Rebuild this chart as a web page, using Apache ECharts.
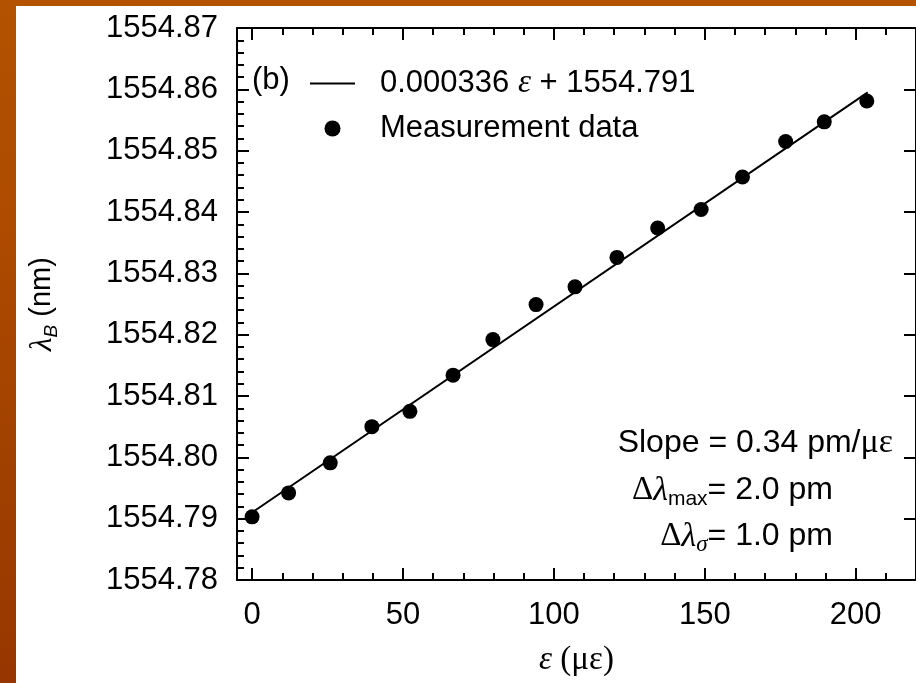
<!DOCTYPE html>
<html>
<head>
<meta charset="utf-8">
<script src="https://cdn.jsdelivr.net/npm/echarts@6/dist/echarts.min.js"></script>
<style>
html,body{margin:0;padding:0;width:916px;height:683px;overflow:hidden;}
body{background:linear-gradient(180deg,#b35200 0%,#ad4a00 35%,#a04000 70%,#983600 100%);}
#chart{position:absolute;left:16px;top:6px;width:900px;height:677px;background:#ffffff;}
</style>
</head>
<body>
<div id="chart"></div>
<script>
// ---- data ----
const strainX = [0, 12.1, 25.9, 39.7, 52.3, 66.6, 79.8, 94.1, 107.0, 120.9, 134.4, 148.8, 162.5, 176.8, 189.6, 203.7];
const lambdaY = [1554.7903, 1554.7942, 1554.7991, 1554.8050, 1554.8075, 1554.8134, 1554.8192, 1554.8249, 1554.8278, 1554.8326, 1554.8374, 1554.8404, 1554.8457, 1554.8515, 1554.8547, 1554.8581];
const fitX = [0, 204];
const fitY = [1554.791, 1554.8595];
const xMajorTicks = [0, 50, 100, 150, 200];
const xMinorTicks = [10, 20, 30, 40, 60, 70, 80, 90, 110, 120, 130, 140, 160, 170, 180, 190, 210];
const fitName = '0.000336 ε + 1554.791';
const dataName = 'Measurement data';

const SANS = 'Liberation Sans';
const SERIF = 'Liberation Serif';

const chart = echarts.init(document.getElementById('chart'), null, {renderer: 'canvas'});

const axisLineStyle = {color: '#000', width: 2};
function xAxisDef(pos, ticks, len, labels, line) {
  return {
    type: 'value', position: pos, min: -5, max: 220,
    axisLine: {show: line, onZero: false, lineStyle: axisLineStyle},
    axisTick: {show: true, inside: true, length: len, lineStyle: {color: '#000', width: 2}, customValues: ticks},
    axisLabel: labels ? {show: true, customValues: ticks, color: '#000', fontFamily: SANS, fontSize: 31, margin: 20} : {show: false},
    splitLine: {show: false}
  };
}

const xAxes = [
  Object.assign(xAxisDef('bottom', xMajorTicks, 12, true, true), {
    name: '{i|ε }{s|(με)}', nameLocation: 'middle', nameGap: 64,
    nameTextStyle: {color: '#000', rich: {
      i: {fontFamily: SERIF, fontStyle: 'italic', fontSize: 33, color: '#000'},
      s: {fontFamily: SERIF, fontSize: 33, color: '#000'}
    }}
  }),
  xAxisDef('bottom', xMinorTicks, 7, false, false),
  xAxisDef('top', xMajorTicks, 12, false, true),
  xAxisDef('top', xMinorTicks, 7, false, false)
];

const yAxes = [
  {
    type: 'value', position: 'left', min: 1554.78, max: 1554.87, interval: 0.01,
    axisLine: {show: true, onZero: false, lineStyle: axisLineStyle},
    axisTick: {show: true, inside: true, length: 12, lineStyle: {color: '#000', width: 2}},
    minorTick: {show: true, splitNumber: 5, length: 7, lineStyle: {color: '#000', width: 2}},
    axisLabel: {color: '#000', fontFamily: SANS, fontSize: 31, margin: 19, formatter: v => v.toFixed(2)},
    splitLine: {show: false},
    name: '{l|λ}{b|B}{n| (nm)}', nameLocation: 'middle', nameGap: 176, nameRotate: 90,
    nameTextStyle: {color: '#000', rich: {
      l: {fontFamily: SERIF, fontStyle: 'italic', fontSize: 31, color: '#000', verticalAlign: 'top', lineHeight: 34},
      b: {fontFamily: SANS, fontStyle: 'italic', fontSize: 19, color: '#000', verticalAlign: 'bottom', lineHeight: 22, padding: [18, 0, 0, 0]},
      n: {fontFamily: SANS, fontSize: 29, color: '#000', verticalAlign: 'top', lineHeight: 34}
    }}
  },
  {
    type: 'value', position: 'right', min: 1554.78, max: 1554.87, interval: 0.01,
    axisLine: {show: true, onZero: false, lineStyle: axisLineStyle},
    axisTick: {show: true, inside: true, length: 12, lineStyle: {color: '#000', width: 2}},
    axisLabel: {show: false},
    splitLine: {show: false}
  }
];

const mainTok = {fontFamily: SANS, fontSize: 32, color: '#000', verticalAlign: 'top', lineHeight: 36};
const option = {
  animation: false,
  backgroundColor: '#ffffff',
  grid: {left: 216, top: 22, width: 693, height: 552, containLabel: false},
  xAxis: xAxes,
  yAxis: yAxes,
  legend: {
    orient: 'vertical', left: 289, top: 56,
    itemWidth: 45, itemHeight: 16, itemGap: 13,
    data: [
      {name: fitName, icon: 'path://M0,0 L45,0 L45,2 L0,2 Z'},
      {name: dataName, icon: 'circle'}
    ],
    formatter: function (name) {
      if (name === fitName) return '{n|0.000336 }{e|ε}{n| + 1554.791}';
      return '{n|' + name + '}';
    },
    textStyle: {
      color: '#000', fontFamily: SANS, fontSize: 31, padding: [0, 0, 0, 20],
      rich: {
        n: {fontFamily: SANS, fontSize: 31, color: '#000', lineHeight: 35},
        e: {fontFamily: SERIF, fontStyle: 'italic', fontSize: 33, color: '#000', lineHeight: 35}
      }
    }
  },
  graphic: [
    {type: 'text', left: 236, top: 59, style: {text: '(b)', fontFamily: SANS, fontSize: 31, fill: '#000'}},
    {type: 'text', x: 877, y: 437, style: {
      text: 'Slope = 0.34 pm/{s|με}', align: 'right', verticalAlign: 'middle',
      fontFamily: SANS, fontSize: 32, fill: '#000',
      rich: {s: {fontFamily: SERIF, fontSize: 34, fill: '#000'}}
    }},
    {type: 'text', x: 817, y: 486, style: {
      text: '{g|Δ}{l|λ}{m|max}{t|= 2.0 pm}', align: 'right', verticalAlign: 'middle',
      rich: {
        g: Object.assign({}, mainTok, {fontFamily: SERIF, fontSize: 33}),
        l: Object.assign({}, mainTok, {fontFamily: SERIF, fontStyle: 'italic', fontSize: 34}),
        m: {fontFamily: SANS, fontSize: 21, color: '#000', verticalAlign: 'bottom', lineHeight: 24, padding: [20, 0, 0, 0]},
        t: mainTok
      }
    }},
    {type: 'text', x: 817, y: 532, style: {
      text: '{g|Δ}{l|λ}{m|σ}{t|= 1.0 pm}', align: 'right', verticalAlign: 'middle',
      rich: {
        g: Object.assign({}, mainTok, {fontFamily: SERIF, fontSize: 33}),
        l: Object.assign({}, mainTok, {fontFamily: SERIF, fontStyle: 'italic', fontSize: 34}),
        m: {fontFamily: SERIF, fontStyle: 'italic', fontSize: 23, color: '#000', verticalAlign: 'bottom', lineHeight: 24, padding: [20, 0, 0, 0]},
        t: mainTok
      }
    }}
  ],
  series: [
    {
      name: fitName, type: 'line', xAxisIndex: 0, yAxisIndex: 0,
      data: fitX.map((x, i) => [x, fitY[i]]),
      showSymbol: false, symbol: 'none',
      lineStyle: {color: '#000', width: 2},
      itemStyle: {color: '#000'},
      z: 2
    },
    {
      name: dataName, type: 'scatter', xAxisIndex: 0, yAxisIndex: 0,
      data: strainX.map((x, i) => [x, lambdaY[i]]),
      symbol: 'circle', symbolSize: 15,
      itemStyle: {color: '#000', opacity: 1},
      z: 3
    }
  ]
};
chart.setOption(option);
</script>
</body>
</html>
